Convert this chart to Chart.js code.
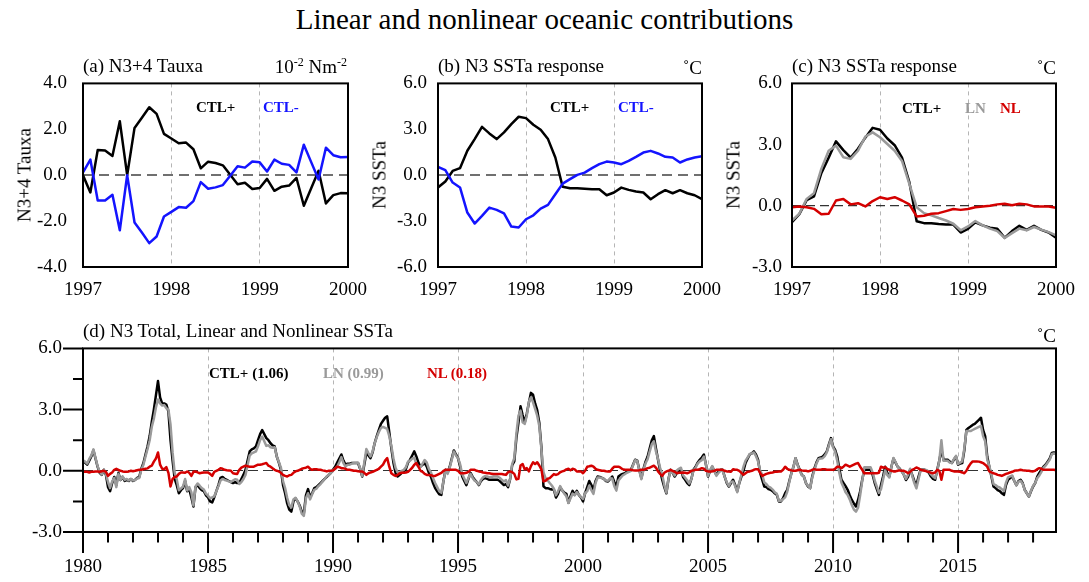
<!DOCTYPE html>
<html>
<head>
<meta charset="utf-8">
<script src="https://cdn.jsdelivr.net/npm/chart.js@4.4.1/dist/chart.umd.min.js"></script>
<style>
  body { margin: 0; background: #fff; }
  #page { position: relative; width: 1089px; height: 582px; overflow: hidden; font-family: "Liberation Serif", "Times New Roman", serif; }
  canvas { position: absolute; }
  .t { position: absolute; white-space: nowrap; line-height: 1; color: #000; font-size: 19px; }
  .t sup { font-size: 12px; line-height: 0; vertical-align: 7px; }
  .lab { font-size: 15px; font-weight: bold; }
  .rot { transform: translate(-50%, -50%) rotate(-90deg); }
</style>
</head>
<body>
<div id="page">
  <canvas id="ca" width="368" height="244"></canvas>
  <canvas id="cb" width="367" height="244"></canvas>
  <canvas id="cc" width="367" height="244"></canvas>
  <canvas id="cd" width="1076" height="246"></canvas>

  <div class="t" style="left:0;width:1089px;text-align:center;top:5px;font-size:29px">Linear and nonlinear oceanic contributions</div>

  <div class="t" style="left:83px;top:56px">(a) N3+4 Tauxa</div>
  <div class="t" style="right:742px;top:57px">10<sup>-2</sup> Nm<sup>-2</sup></div>
  <div class="t rot" style="left:24px;top:175px">N3+4 Tauxa</div>
  <div class="t lab" style="left:196px;top:100px">CTL+</div>
  <div class="t lab" style="left:263px;top:100px;color:#1414ff">CTL-</div>

  <div class="t" style="left:438px;top:56px">(b) N3 SSTa response</div>
  <div class="t" style="right:387px;top:58px">˚C</div>
  <div class="t rot" style="left:379px;top:175px">N3 SSTa</div>
  <div class="t lab" style="left:550px;top:100px">CTL+</div>
  <div class="t lab" style="left:618px;top:100px;color:#1414ff">CTL-</div>

  <div class="t" style="left:792px;top:56px">(c) N3 SSTa response</div>
  <div class="t" style="right:33px;top:58px">˚C</div>
  <div class="t rot" style="left:733px;top:175px">N3 SSTa</div>
  <div class="t lab" style="left:902px;top:101px">CTL+</div>
  <div class="t lab" style="left:965px;top:101px;color:#9a9a9a">LN</div>
  <div class="t lab" style="left:1000px;top:101px;color:#d40000">NL</div>

  <div class="t" style="left:83px;top:321px">(d) N3 Total, Linear and Nonlinear SSTa</div>
  <div class="t" style="right:33px;top:326px">˚C</div>
  <div class="t lab" style="left:209px;top:366px">CTL+ (1.06)</div>
  <div class="t lab" style="left:323px;top:366px;color:#9a9a9a">LN (0.99)</div>
  <div class="t lab" style="left:427px;top:366px;color:#d40000">NL (0.18)</div>
</div>
<script>
// monthly values, Jan 1997 .. Jan 2000 (panels a-c)
const tauxCtlPlus = [0.0,-0.75,1.1,1.08,0.84,2.35,0.0,2.06,2.5,2.96,2.67,1.8,
  1.6,1.39,1.42,1.13,0.3,0.59,0.53,0.43,0.02,-0.39,-0.33,-0.6,
  -0.56,-0.16,-0.68,-0.5,-0.45,-0.12,-1.33,-0.57,0.19,-1.23,-0.87,-0.78,-0.79];
const tauxCtlMinus = [0.12,0.68,-1.1,-1.1,-0.85,-2.4,0.0,-2.06,-2.5,-2.96,-2.67,-1.8,
  -1.6,-1.39,-1.42,-1.13,-0.3,-0.59,-0.53,-0.43,-0.02,0.39,0.33,0.6,
  0.56,0.16,0.68,0.5,0.45,0.12,1.33,0.57,-0.19,1.2,0.87,0.78,0.79];
const sstCtlPlus = [-0.8,-0.41,0.28,0.46,1.6,2.36,3.16,2.73,2.36,2.8,3.34,3.82,
  3.73,3.3,2.97,2.36,1.16,-0.76,-0.85,-0.85,-0.89,-0.92,-0.92,-1.31,
  -1.13,-0.81,-0.96,-1.07,-1.13,-1.57,-1.24,-0.98,-1.18,-0.98,-1.18,-1.31,-1.57];
const sstCtlMinus = [0.55,0.33,-0.48,-0.8,-2.44,-3.16,-2.66,-2.12,-2.27,-2.5,-3.36,-3.42,
  -2.88,-2.62,-2.18,-1.94,-1.24,-0.55,-0.26,0.02,0.17,0.46,0.72,0.89,
  0.83,0.72,0.94,1.2,1.48,1.59,1.42,1.2,1.16,0.83,1.03,1.16,1.24];
const sstLN = [-0.72,-0.39,0.34,0.62,1.81,2.7,2.95,2.38,2.3,2.7,3.39,3.6,
  3.36,3.03,2.7,2.2,1.08,-0.07,-0.36,-0.47,-0.6,-0.72,-0.88,-1.2,
  -1.01,-0.75,-0.96,-1.12,-1.24,-1.58,-1.34,-1.12,-1.2,-1.04,-1.17,-1.29,-1.45];
const sstNL = [-0.07,-0.03,-0.07,-0.15,-0.42,-0.39,0.26,0.33,0.07,0.13,-0.03,0.23,
  0.42,0.33,0.42,0.26,0.07,-0.52,-0.49,-0.39,-0.36,-0.26,-0.16,-0.2,
  -0.16,-0.07,-0.03,0,0.07,0.1,0.03,0.1,0.07,-0.03,-0.03,-0.03,-0.1];

// monthly values, Jan 1980 .. Dec 2018 (panel d), one row per year
const ctlD = [
  0.46,0.4,0.3,0.5,0.7,1.0,0.6,0.2,-0.1,-0.2,0.05,-0.2,
  -0.8,-1.0,-0.6,-0.3,-0.7,-0.1,-0.45,-0.3,-0.5,-0.45,-0.5,-0.4,
  -0.5,-0.45,-0.35,-0.3,0.1,0.38,0.8,1.2,1.7,2.4,3.0,3.7,
  4.4,3.6,3.3,3.3,3.25,2.9,1.5,0.5,-0.4,-0.7,-1.1,-0.95,
  -0.85,-0.5,-1.0,-0.9,-1.3,-1.75,-0.8,-0.7,-0.85,-0.95,-1.0,-1.2,
  -1.3,-1.5,-1.55,-1.3,-1.0,-0.7,-0.35,-0.3,-0.4,-0.45,-0.5,-0.55,
  -0.6,-0.55,-0.6,-0.6,-0.4,-0.2,0.05,0.5,0.95,1.05,1.1,1.2,
  1.5,1.8,2.0,1.8,1.6,1.5,1.35,1.25,1.2,0.7,0.4,0.05,
  -0.7,-1.1,-1.6,-1.9,-2.0,-1.5,-1.35,-1.5,-1.7,-2.0,-2.08,-1.2,
  -0.9,-1.3,-1.1,-0.85,-0.8,-0.7,-0.6,-0.5,-0.4,-0.3,-0.2,-0.1,
  0.05,0.2,0.4,0.6,0.8,0.5,0.3,0.35,0.35,0.38,0.38,0.38,
  0.38,0.1,-0.28,0.3,0.87,0.75,0.62,0.9,1.36,1.7,2.0,2.3,
  2.45,2.6,2.67,1.9,1.1,0.4,-0.1,-0.28,-0.2,-0.1,-0.05,0.1,
  0.4,0.55,0.75,0.95,0.7,0.4,0.2,0.3,0.38,0.2,-0.1,-0.3,
  -0.6,-0.85,-1.0,-1.15,-1.18,-0.5,0.05,-0.1,0.2,0.6,1.0,0.8,
  0.62,0.2,-0.28,-0.5,-0.7,-0.4,-0.1,-0.3,-0.44,-0.55,-0.7,-0.5,
  -0.4,-0.36,-0.4,-0.44,-0.44,-0.44,-0.44,-0.44,-0.5,-0.6,-0.7,-0.65,
  -0.8,-0.41,0.28,0.46,1.6,2.36,3.16,2.73,2.36,2.8,3.34,3.82,
  3.73,3.3,2.97,2.36,1.16,-0.76,-0.85,-0.85,-0.89,-0.92,-0.92,-1.31,
  -1.13,-0.81,-0.96,-1.07,-1.13,-1.57,-1.24,-0.98,-1.18,-0.98,-1.18,-1.31,
  -1.5,-1.1,-0.8,-0.5,-0.7,-0.93,-0.5,-0.28,-0.3,-0.35,-0.4,-0.5,
  -0.52,-0.4,-0.28,-0.55,-0.77,-0.28,-0.2,-0.15,-0.12,-0.05,0.0,0.05,
  0.3,0.54,0.5,0.05,-0.36,0.1,0.45,0.7,1.1,1.5,1.7,1.1,
  0.54,0.0,-0.44,-0.8,-1.1,-0.4,0.05,-0.1,-0.28,-0.1,0.0,0.05,
  -0.3,-0.44,-0.6,-0.7,-0.4,0.05,0.2,0.4,0.54,0.65,0.8,0.3,
  -0.28,0.0,0.2,0.0,-0.2,-0.05,0.05,0.05,-0.3,-0.6,-0.77,-0.6,
  -0.44,-0.7,-1.0,-0.6,-0.28,0.0,0.38,0.6,0.8,0.85,0.95,0.8,
  0.54,-0.1,-0.44,-0.77,-0.8,-0.9,-0.93,-1.0,-1.1,-1.18,-1.5,-1.5,
  -1.34,-1.1,-0.93,-0.5,-0.12,0.2,0.62,0.3,0.05,-0.2,-0.28,-0.6,
  -0.77,-0.85,-0.28,0.1,0.4,0.62,0.65,0.7,0.8,0.95,1.3,1.6,
  1.2,1.03,0.7,0.1,-0.44,-0.6,-0.75,-0.93,-1.2,-1.43,-1.6,-1.75,
  -1.43,-1.0,-0.44,0.05,0.05,0.05,0.05,-0.2,-0.6,-0.9,-1.18,-0.7,
  -0.28,0.2,-0.1,-0.28,0.2,0.6,0.4,0.2,0.1,-0.03,-0.2,-0.45,
  -0.3,0.05,-0.2,-0.5,-0.7,-0.3,0.05,0.05,0.05,0.0,-0.1,-0.28,
  -0.4,-0.44,0.05,0.5,1.05,0.54,0.54,0.54,0.45,0.38,0.55,0.7,
  0.3,0.35,0.38,1.0,2.0,2.1,2.17,2.25,2.3,2.4,2.5,2.6,
  2.0,1.7,0.7,0.2,-0.28,-0.77,-0.85,-0.95,-1.0,-1.1,-1.18,-0.7,
  -0.44,-0.35,-0.28,-0.5,-0.7,-0.5,-0.44,-0.6,-0.93,-1.1,-1.26,-1.0,
  -0.77,-0.6,-0.28,-0.1,0.05,0.2,0.3,0.45,0.6,0.87,0.9,0.85
];
const lnD = [
  0.51,0.45,0.35,0.58,0.75,1.05,0.63,0.23,-0.05,-0.18,0.05,-0.15,
  -0.55,-0.85,-0.52,-0.35,-0.8,-0.15,-0.45,-0.27,-0.45,-0.4,-0.47,-0.4,
  -0.48,-0.45,-0.38,-0.35,0.05,0.3,0.7,1.08,1.5,2.15,2.55,3.1,
  3.5,3.3,3.2,3.22,3.07,3.0,2.27,0.9,-0.1,-0.42,-0.95,-0.87,
  -0.77,-0.4,-0.97,-0.8,-1.05,-1.7,-0.77,-0.62,-0.73,-0.85,-0.92,-1.12,
  -1.22,-1.35,-1.3,-1.25,-1.0,-0.75,-0.48,-0.4,-0.45,-0.48,-0.52,-0.55,
  -0.48,-0.41,-0.44,-0.65,-0.55,-0.4,-0.2,0.28,0.75,0.85,0.9,0.95,
  1.2,1.5,1.68,1.45,1.22,1.25,1.15,1.13,1.15,0.7,0.43,0.15,
  -0.5,-0.85,-1.32,-1.68,-1.8,-1.4,-1.32,-1.5,-1.75,-2.1,-2.21,-1.35,
  -1.1,-1.4,-1.15,-0.93,-0.88,-0.75,-0.65,-0.52,-0.4,-0.27,-0.2,-0.1,
  0.03,0.1,0.2,0.42,0.67,0.38,0.2,0.3,0.3,0.35,0.38,0.38,
  0.4,0.13,-0.25,0.4,1.07,0.87,0.7,0.95,1.36,1.65,1.9,2.1,
  2.15,2.1,2.05,1.7,1.22,0.6,0.15,-0.08,-0.08,0.0,0.05,0.18,
  0.45,0.5,0.6,0.65,0.32,0.2,0.2,0.35,0.53,0.4,0.1,-0.08,
  -0.35,-0.6,-0.8,-1.0,-1.08,-0.5,0.0,-0.15,0.15,0.55,0.95,0.75,
  0.62,0.32,-0.16,-0.38,-0.6,-0.35,-0.15,-0.35,-0.49,-0.55,-0.67,-0.45,
  -0.32,-0.26,-0.28,-0.32,-0.3,-0.28,-0.28,-0.28,-0.34,-0.44,-0.52,-0.45,
  -0.72,-0.39,0.34,0.62,1.81,2.7,2.95,2.38,2.3,2.7,3.39,3.6,
  3.36,3.03,2.7,2.2,1.08,-0.07,-0.36,-0.47,-0.6,-0.72,-0.88,-1.2,
  -1.01,-0.75,-0.96,-1.12,-1.24,-1.58,-1.34,-1.12,-1.2,-1.04,-1.17,-1.29,
  -1.38,-1.1,-1.0,-0.72,-0.95,-1.13,-0.6,-0.33,-0.33,-0.35,-0.4,-0.48,
  -0.49,-0.37,-0.38,-0.75,-0.97,-0.48,-0.35,-0.23,-0.17,-0.1,-0.05,0.0,
  0.27,0.52,0.48,0.02,-0.41,0.05,0.37,0.57,0.95,1.3,1.45,0.95,
  0.57,0.15,-0.19,-0.7,-1.07,-0.4,0.0,-0.1,-0.23,0.02,0.1,0.15,
  -0.22,-0.34,-0.48,-0.62,-0.4,0.03,0.15,0.35,0.46,0.52,0.7,0.3,
  -0.25,0.03,0.23,0.0,-0.25,-0.1,0.0,0.0,-0.3,-0.57,-0.74,-0.55,
  -0.52,-0.75,-1.05,-0.6,-0.18,0.2,0.5,0.65,0.83,0.85,0.9,0.72,
  0.46,0.0,-0.19,-0.57,-0.65,-0.78,-0.83,-0.92,-1.05,-1.13,-1.47,-1.47,
  -1.39,-1.3,-1.03,-0.55,-0.14,0.2,0.62,0.27,0.0,-0.22,-0.28,-0.6,
  -0.74,-0.85,-0.33,0.02,0.35,0.57,0.6,0.62,0.72,0.9,1.25,1.55,
  1.15,0.93,0.5,-0.1,-0.57,-0.8,-1.05,-1.18,-1.4,-1.68,-1.9,-2.0,
  -1.81,-1.2,-0.49,0.17,0.17,0.17,0.17,-0.08,-0.48,-0.78,-1.08,-0.9,
  -0.43,0.02,-0.2,-0.33,0.2,0.63,0.43,0.2,0.08,-0.03,-0.2,-0.4,
  -0.18,0.1,-0.25,-0.6,-0.86,-0.42,0.0,0.02,0.05,0.03,-0.05,-0.18,
  -0.28,-0.36,0.0,0.5,1.5,0.49,0.49,0.49,0.4,0.38,0.58,0.73,
  0.33,0.4,0.46,1.1,1.95,1.95,1.95,2.0,2.05,2.1,2.15,2.2,
  1.7,1.45,0.55,0.23,-0.2,-0.65,-0.7,-0.78,-0.82,-0.9,-1.0,-0.58,
  -0.32,-0.27,-0.23,-0.5,-0.72,-0.53,-0.49,-0.63,-0.95,-1.1,-1.26,-0.98,
  -0.74,-0.6,-0.36,-0.23,-0.05,0.15,0.25,0.4,0.55,0.82,0.85,0.82
];
const nlD = [
  -0.05,-0.05,-0.05,-0.08,-0.05,-0.05,-0.03,-0.03,-0.05,-0.02,0.0,-0.05,
  -0.25,-0.15,-0.08,0.05,0.1,0.05,0.0,-0.03,-0.05,-0.05,-0.03,0.0,
  -0.02,0.0,0.03,0.05,0.05,0.08,0.1,0.12,0.2,0.25,0.45,0.6,
  0.9,0.3,0.1,0.08,0.18,-0.1,-0.77,-0.4,-0.3,-0.28,-0.15,-0.08,
  -0.08,-0.1,-0.03,-0.1,-0.25,-0.05,-0.03,-0.08,-0.12,-0.1,-0.08,-0.08,
  -0.08,-0.15,-0.25,-0.05,0.0,0.05,0.13,0.1,0.05,0.03,0.02,0.0,
  -0.12,-0.14,-0.16,0.05,0.15,0.2,0.25,0.22,0.2,0.2,0.2,0.25,
  0.3,0.3,0.32,0.35,0.38,0.25,0.2,0.12,0.05,0.0,-0.03,-0.1,
  -0.2,-0.25,-0.28,-0.22,-0.2,-0.1,-0.03,0.0,0.05,0.1,0.13,0.15,
  0.2,0.1,0.05,0.08,0.08,0.05,0.05,0.02,0.0,-0.03,0.0,0.0,
  0.02,0.1,0.2,0.18,0.13,0.12,0.1,0.05,0.05,0.03,0.0,0.0,
  -0.02,-0.03,-0.03,-0.1,-0.2,-0.12,-0.08,-0.05,0.0,0.05,0.1,0.2,
  0.3,0.5,0.62,0.2,-0.12,-0.2,-0.25,-0.2,-0.12,-0.1,-0.1,-0.08,
  -0.05,0.05,0.15,0.3,0.38,0.2,0.0,-0.05,-0.15,-0.2,-0.2,-0.22,
  -0.25,-0.25,-0.2,-0.15,-0.1,0.0,0.05,0.05,0.05,0.05,0.05,0.05,
  0.0,-0.12,-0.12,-0.12,-0.1,-0.05,0.05,0.05,0.05,0.0,-0.03,-0.05,
  -0.08,-0.1,-0.12,-0.12,-0.14,-0.16,-0.16,-0.16,-0.16,-0.16,-0.18,-0.2,
  -0.07,-0.03,-0.07,-0.15,-0.42,-0.39,0.26,0.33,0.07,0.13,-0.03,0.23,
  0.42,0.33,0.42,0.26,0.07,-0.52,-0.49,-0.39,-0.36,-0.26,-0.16,-0.2,
  -0.16,-0.07,-0.03,0.0,0.07,0.1,0.03,0.1,0.07,-0.03,-0.03,-0.03,
  -0.12,0.0,0.2,0.22,0.25,0.2,0.1,0.05,0.03,0.0,0.0,-0.02,
  -0.03,-0.03,0.1,0.2,0.2,0.2,0.15,0.08,0.05,0.05,0.05,0.05,
  0.03,0.02,0.02,0.03,0.05,0.05,0.08,0.13,0.15,0.2,0.25,0.15,
  -0.03,-0.15,-0.25,-0.1,-0.03,0.0,0.05,0.0,-0.05,-0.12,-0.1,-0.1,
  -0.08,-0.1,-0.12,-0.08,0.0,0.02,0.05,0.05,0.08,0.13,0.1,0.0,
  -0.03,-0.03,-0.03,0.0,0.05,0.05,0.05,0.05,0.0,-0.03,-0.03,-0.05,
  0.08,0.05,0.05,0.0,-0.1,-0.2,-0.12,-0.05,-0.03,0.0,0.05,0.08,
  0.08,-0.1,-0.25,-0.2,-0.15,-0.12,-0.1,-0.08,-0.05,-0.05,-0.03,-0.03,
  0.05,0.2,0.1,0.05,0.02,0.0,0.0,0.03,0.05,0.02,0.0,0.0,
  -0.03,0.0,0.05,0.08,0.05,0.05,0.05,0.08,0.08,0.05,0.05,0.05,
  0.05,0.1,0.2,0.2,0.13,0.2,0.3,0.25,0.2,0.25,0.3,0.35,
  0.38,0.2,0.05,-0.12,-0.12,-0.12,-0.12,-0.12,-0.12,-0.12,-0.1,0.2,
  0.15,0.18,0.1,0.05,0.0,-0.03,-0.03,0.0,0.02,0.0,0.0,-0.05,
  -0.12,-0.05,0.05,0.1,0.16,0.12,0.05,0.03,0.0,-0.03,-0.05,-0.1,
  -0.12,-0.08,0.05,0.0,-0.44,0.05,0.05,0.05,0.05,0.0,-0.03,-0.03,
  -0.03,-0.05,-0.08,-0.12,0.0,0.2,0.35,0.46,0.46,0.46,0.45,0.42,
  0.38,0.3,0.2,-0.03,-0.08,-0.12,-0.15,-0.2,-0.22,-0.25,-0.2,-0.15,
  -0.12,-0.08,-0.05,0.0,0.02,0.03,0.05,0.03,0.02,0.0,0.0,-0.02,
  -0.03,0.0,0.08,0.13,0.1,0.05,0.05,0.05,0.05,0.05,0.05,0.03
];

// tick labels
const yearTicksABC = [1997, 1998, 1999, 2000];
const yearTicksD = [1980, 1985, 1990, 1995, 2000, 2005, 2010, 2015];
const yTicksA = [-4, -2, 0, 2, 4];
const yTicksB = [-6, -3, 0, 3, 6];
const yTicksC = [-3, 0, 3, 6];
const yTicksD = [-3, 0, 3, 6];
const yMinorD = [-1.5, 1.5, 4.5];

const BLACK = '#000000', BLUE = '#1414ff', GRAY = '#9a9a9a', RED = '#d40000';
const FONT = { family: '"Liberation Serif", "Times New Roman", serif', size: 19 };

function series(values, start, color, width) {
  return {
    data: values.map((v, i) => ({ x: start + i / 12, y: v })),
    borderColor: color, borderWidth: width, pointRadius: 0, tension: 0,
    borderJoinStyle: 'round', fill: false
  };
}

// plot frame + outward ticks for panel (d)
const frame = {
  id: 'frame',
  afterDatasetsDraw(chart, args, opts) {
    const { ctx, chartArea: a, scales: { x, y } } = chart;
    ctx.save();
    ctx.strokeStyle = '#000';
    ctx.lineWidth = 2;
    ctx.strokeRect(a.left, a.top, a.right - a.left, a.bottom - a.top);
    if (opts.years) {
      ctx.beginPath();
      for (let yr = opts.years[0]; yr <= opts.years[1]; yr++) {
        const px = x.getPixelForValue(yr);
        const len = yr % 5 === 0 ? 21 : 10.5;
        ctx.moveTo(px, a.bottom); ctx.lineTo(px, a.bottom + len);
      }
      opts.yMajor.forEach(v => { const py = y.getPixelForValue(v); ctx.moveTo(a.left, py); ctx.lineTo(a.left - 20, py); });
      opts.yMinor.forEach(v => { const py = y.getPixelForValue(v); ctx.moveTo(a.left, py); ctx.lineTo(a.left - 10, py); });
      ctx.stroke();
    }
    ctx.restore();
  }
};

function config(p) {
  return {
    type: 'line',
    data: { datasets: p.datasets },
    plugins: [frame],
    options: {
      responsive: false, maintainAspectRatio: false, animation: false, events: [],
      layout: { padding: { top: 14, right: 20, left: 0, bottom: 0 } },
      plugins: { legend: { display: false }, tooltip: { enabled: false }, frame: p.frame || {} },
      scales: {
        x: {
          type: 'linear', min: p.xMin, max: p.xMax,
          afterBuildTicks: s => { s.ticks = p.xTicks.map(v => ({ value: v })); },
          afterFit: s => { s.height = p.xh; },
          ticks: { font: FONT, color: '#000', padding: p.xPad, maxRotation: 0, autoSkip: false, callback: v => String(v) },
          grid: {
            drawTicks: false, lineWidth: 1,
            color: c => (c.tick && c.tick.value > p.xMin && c.tick.value < p.xMax) ? '#b5b5b5' : 'rgba(0,0,0,0)'
          },
          border: { display: false, dash: [4, 4] }
        },
        y: {
          min: p.yMin, max: p.yMax,
          afterBuildTicks: s => { s.ticks = p.yTicks.map(v => ({ value: v })); },
          afterFit: s => { s.width = 83; },
          ticks: { font: FONT, color: '#000', padding: p.yPad, callback: v => v.toFixed(1) },
          grid: {
            drawTicks: false, lineWidth: p.zeroWidth,
            color: c => (c.tick && c.tick.value === 0) ? p.zeroColor : 'rgba(0,0,0,0)'
          },
          border: { display: false, dash: p.zeroDash }
        }
      }
    }
  };
}

// build once to measure the margins Chart.js leaves, then rebuild so the
// plot area lands on the wanted box (left, top, width, height)
function panel(id, box, p) {
  const canvas = document.getElementById(id);
  let chart = new Chart(canvas, config(p));
  const a = chart.chartArea;
  const mLeft = a.left, mTop = a.top;
  const mRight = canvas.width - a.right, mBottom = canvas.height - a.bottom;
  chart.destroy();
  canvas.width = Math.round(mLeft + box.w + mRight);
  canvas.height = Math.round(mTop + box.h + mBottom);
  canvas.style.left = (box.left - mLeft) + 'px';
  canvas.style.top = (box.top - mTop) + 'px';
  chart = new Chart(canvas, config(p));
  return chart;
}

panel('ca', { left: 83, top: 83, w: 265, h: 184 }, {
  xMin: 1997, xMax: 2000, xTicks: yearTicksABC, xh: 46, xPad: 12,
  yMin: -4, yMax: 4, yTicks: yTicksA, yPad: 16,
  zeroColor: '#707070', zeroWidth: 2, zeroDash: [10, 6],
  datasets: [series(tauxCtlMinus, 1997, BLUE, 2.5), series(tauxCtlPlus, 1997, BLACK, 2.5)]
});
panel('cb', { left: 438, top: 83, w: 264, h: 184 }, {
  xMin: 1997, xMax: 2000, xTicks: yearTicksABC, xh: 46, xPad: 12,
  yMin: -6, yMax: 6, yTicks: yTicksB, yPad: 11,
  zeroColor: '#707070', zeroWidth: 2, zeroDash: [10, 6],
  datasets: [series(sstCtlMinus, 1997, BLUE, 2.5), series(sstCtlPlus, 1997, BLACK, 2.5)]
});
panel('cc', { left: 792, top: 83, w: 264, h: 184 }, {
  xMin: 1997, xMax: 2000, xTicks: yearTicksABC, xh: 46, xPad: 12,
  yMin: -3, yMax: 6, yTicks: yTicksC, yPad: 10,
  zeroColor: '#333333', zeroWidth: 1.2, zeroDash: [9, 5],
  datasets: [series(sstNL, 1997, RED, 2.5), series(sstLN, 1997, GRAY, 2.5), series(sstCtlPlus, 1997, BLACK, 2.5)]
});
panel('cd', { left: 83, top: 348, w: 973, h: 184 }, {
  xMin: 1980, xMax: 1980 + (ctlD.length - 1) / 12, xTicks: yearTicksD, xh: 48, xPad: 24,
  yMin: -3, yMax: 6, yTicks: yTicksD, yPad: 21,
  zeroColor: '#333333', zeroWidth: 1, zeroDash: [10, 5],
  frame: { years: [1980, 2018], yMajor: yTicksD, yMinor: yMinorD },
  datasets: [series(nlD, 1980, RED, 2.5), series(lnD, 1980, GRAY, 2.5), series(ctlD, 1980, BLACK, 2.5)]
});
</script>
</body>
</html>
